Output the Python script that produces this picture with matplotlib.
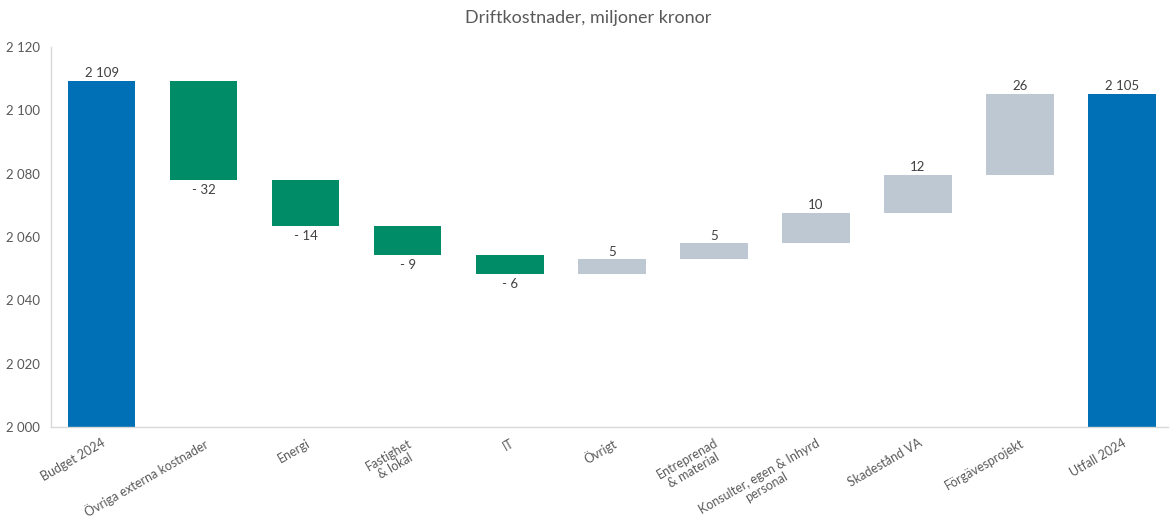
import matplotlib
matplotlib.use("Agg")
import matplotlib.pyplot as plt
import numpy as np

categories = ["Budget 2024", "Övriga externa kostnader", "Energi", "Fastighet\n& lokal", "IT",
              "Övrigt", "Entreprenad\n& material", "Konsulter, egen & Inhyrd\npersonal",
              "Skadestånd VA", "Förgävesprojekt", "Utfall 2024"]
budget = 2109.4
deltas = [-31.5, -14.4, -9.2, -5.9, 4.7, 5.0, 9.6, 12.0, 25.6]
y_ticks = [2000, 2020, 2040, 2060, 2080, 2100, 2120]

BLUE = "#0070b6"
GREEN = "#008c66"
GREY = "#bec8d2"
TXT = "#595959"

plt.rcParams['font.family'] = ['Lato', 'DejaVu Sans']

def fmt_total(v):
    return f"{int(round(v)):,}".replace(",", " ")

def fmt_delta(v):
    r = int(round(v))
    return f"- {abs(r)}" if r < 0 else f"{r}"

fig = plt.figure(figsize=(11.71, 5.19), dpi=100)
ax = fig.add_axes([0.0433, 0.1773, 0.9541, 0.7321])

cum = budget
x = np.arange(len(categories))
w = 0.66
ymin = y_ticks[0]
ax.bar(x[0], budget - ymin, bottom=ymin, width=w, color=BLUE)
ax.text(x[0], budget + 0.4, fmt_total(budget), ha="center", va="bottom", fontsize=9.5, color="#404040")
for i, d in enumerate(deltas, start=1):
    start = cum
    end = cum + d
    col = GREEN if d < 0 else GREY
    ax.bar(x[i], d, bottom=start, width=w, color=col)
    if d < 0:
        ax.text(x[i], end - 1.2, fmt_delta(d), ha="center", va="top", fontsize=9.5, color="#404040")
    else:
        ax.text(x[i], end + 0.4, fmt_delta(d), ha="center", va="bottom", fontsize=9.5, color="#404040")
    cum = end
ax.bar(x[-1], cum - ymin, bottom=ymin, width=w, color=BLUE)
ax.text(x[-1], cum + 0.4, fmt_total(cum), ha="center", va="bottom", fontsize=9.5, color="#404040")

ax.set_ylim(y_ticks[0], y_ticks[-1])
ax.set_xlim(-0.5, 10.45)
ax.set_yticks(y_ticks)
ax.set_yticklabels([fmt_total(v) for v in y_ticks], fontsize=9.5, color=TXT)
ax.set_xticks(x)
ax.set_xticklabels(categories, rotation=30, ha="right", rotation_mode="anchor",
                   fontsize=9, color=TXT, multialignment="center", linespacing=1.1)
ax.tick_params(axis="both", length=0)
ax.tick_params(axis="y", pad=8)
ax.tick_params(axis="x", pad=7)
for s in ["top", "right"]:
    ax.spines[s].set_visible(False)
for s in ["left", "bottom"]:
    ax.spines[s].set_color("#d9d9d9")
    ax.spines[s].set_linewidth(1)

fig.text(0.502, 0.965, "Driftkostnader, miljoner kronor", ha="center", va="center",
         fontsize=13, color=TXT)

fig.savefig("out.png", dpi=100)
